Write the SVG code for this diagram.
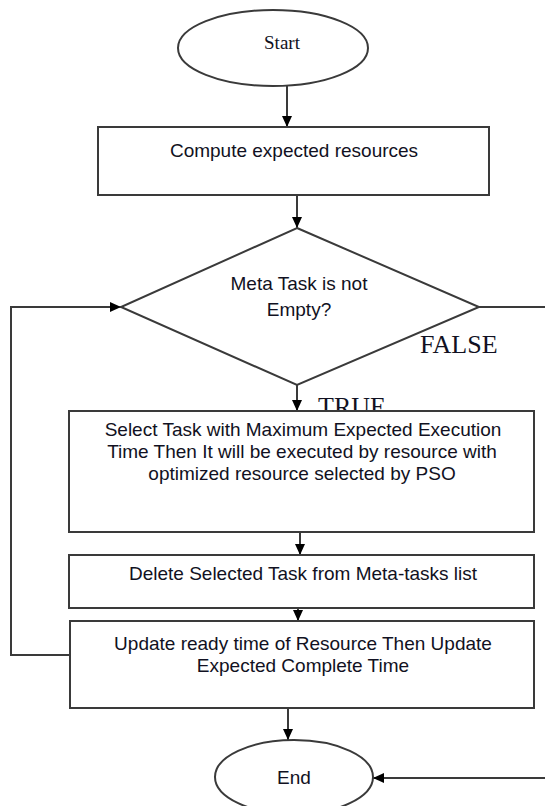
<svg xmlns="http://www.w3.org/2000/svg" width="545" height="806" viewBox="0 0 545 806">
  <style>
    .shape { fill: #ffffff; stroke: #3a3a3a; stroke-width: 2; }
    .conn { fill: none; stroke: #3a3a3a; stroke-width: 2; }
    .body { font-family: "Liberation Sans", Arial, sans-serif; font-size: 19px; fill: #111122; text-anchor: middle; }
    .serif { font-family: "Liberation Serif", "Times New Roman", serif; fill: #111122; }
  </style>
  <defs>
    <marker id="arrow" markerWidth="12" markerHeight="12" refX="11" refY="6" orient="auto" markerUnits="userSpaceOnUse">
      <path d="M0,1 L11,6 L0,11 Z" fill="#000000"/>
    </marker>
  </defs>
  <rect width="545" height="806" fill="#ffffff"/>

  <!-- branch labels -->
  <text class="serif" x="318" y="415" font-size="26">TRUE</text>
  <text class="serif" x="420" y="353" font-size="26">FALSE</text>

  <g id="connectors">
    <line class="conn" x1="287" y1="86" x2="287" y2="127" marker-end="url(#arrow)"/>
    <line class="conn" x1="297" y1="195" x2="297" y2="228" marker-end="url(#arrow)"/>
    <line class="conn" x1="297" y1="385" x2="297" y2="411" marker-end="url(#arrow)"/>
    <line class="conn" x1="300" y1="532" x2="300" y2="555" marker-end="url(#arrow)"/>
    <line class="conn" x1="298" y1="608" x2="298" y2="621" marker-end="url(#arrow)"/>
    <line class="conn" x1="288" y1="708" x2="288" y2="740" marker-end="url(#arrow)"/>
    <polyline class="conn" points="70,655 11,655 11,307 121,307" marker-end="url(#arrow)"/>
    <line class="conn" x1="479" y1="307" x2="546" y2="307"/>
    <line class="conn" x1="546" y1="778" x2="373" y2="778" marker-end="url(#arrow)"/>
  </g>

  <g id="start">
    <ellipse class="shape" cx="273" cy="48" rx="95" ry="38"/>
    <text class="serif" x="282" y="49" font-size="19" text-anchor="middle">Start</text>
  </g>

  <g id="compute">
    <rect class="shape" x="98" y="127" width="391" height="68"/>
    <text class="body" x="294" y="157" font-size="20.5">Compute expected resources</text>
  </g>

  <g id="decision">
    <polygon class="shape" points="297,228 479,307 297,385 121,307"/>
    <text class="body" x="299" y="290">Meta Task is not</text>
    <text class="body" x="299" y="316">Empty?</text>
  </g>

  <g id="select">
    <rect class="shape" x="69" y="411" width="465" height="121"/>
    <text class="body" x="303" y="436">Select Task with Maximum Expected Execution</text>
    <text class="body" x="302" y="458">Time Then It will be executed by resource with</text>
    <text class="body" x="302" y="480">optimized resource selected by PSO</text>
  </g>

  <g id="delete">
    <rect class="shape" x="69" y="555" width="465" height="53"/>
    <text class="body" x="303" y="580">Delete Selected Task from Meta-tasks list</text>
  </g>

  <g id="update">
    <rect class="shape" x="70" y="621" width="464" height="87"/>
    <text class="body" x="303" y="650">Update ready time of Resource Then Update</text>
    <text class="body" x="303" y="672">Expected Complete Time</text>
  </g>

  <g id="end">
    <ellipse class="shape" cx="294" cy="777" rx="79" ry="37"/>
    <text class="body" x="294" y="784" font-size="20">End</text>
  </g>
</svg>
